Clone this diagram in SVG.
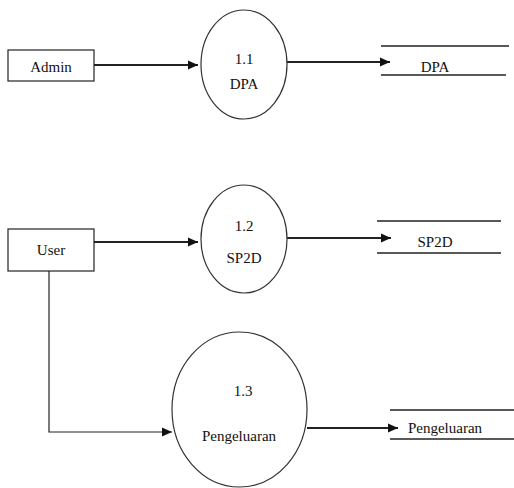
<svg xmlns="http://www.w3.org/2000/svg" width="514" height="488" viewBox="0 0 514 488">
<style>
.box{fill:#fff;stroke:#222;stroke-width:1.2}
.proc{fill:#fff;stroke:#333;stroke-width:1.2}
.store{stroke:#222;stroke-width:1.5}
.flow{fill:none;stroke:#222;stroke-width:1.8}
.flow-thin{fill:none;stroke:#222;stroke-width:1.2}
.lbl{font-family:'Liberation Serif','DejaVu Serif',serif;font-size:15px;fill:#111;text-anchor:middle}
</style>
<defs>
<marker id="arr" markerUnits="userSpaceOnUse" markerWidth="12" markerHeight="12" refX="10" refY="6" orient="auto">
<path d="M0,1.5 L10,6 L0,10.5 Z" fill="#111"/>
</marker>
</defs>
<rect width="514" height="488" fill="#fff"/>
<g id="connectors">
<line class="flow" x1="94" y1="65" x2="198" y2="65" marker-end="url(#arr)"/>
<line class="flow" x1="287" y1="62" x2="390" y2="62" marker-end="url(#arr)"/>
<line class="flow" x1="94" y1="242" x2="198" y2="242" marker-end="url(#arr)"/>
<line class="flow" x1="287" y1="238" x2="391" y2="238" marker-end="url(#arr)"/>
<polyline class="flow-thin" points="49,271 49,432 172,432" marker-end="url(#arr)"/>
<line class="flow" x1="307" y1="428" x2="398" y2="428" marker-end="url(#arr)"/>
</g>
<g id="admin">
<rect class="box" x="8" y="50" width="86" height="31"/>
<text class="lbl" x="51" y="72">Admin</text>
</g>
<g id="user">
<rect class="box" x="8" y="229" width="86" height="42"/>
<text class="lbl" x="51" y="255">User</text>
</g>
<g id="p11">
<ellipse class="proc" cx="244" cy="64.5" rx="43" ry="54.5"/>
<text class="lbl" x="244" y="64">1.1</text>
<text class="lbl" x="244" y="89">DPA</text>
</g>
<g id="p12">
<ellipse class="proc" cx="244" cy="239" rx="43" ry="54"/>
<text class="lbl" x="244" y="231">1.2</text>
<text class="lbl" x="244" y="263">SP2D</text>
</g>
<g id="p13">
<ellipse class="proc" cx="239.5" cy="409.5" rx="67.5" ry="77.5"/>
<text class="lbl" x="243" y="396">1.3</text>
<text class="lbl" x="239" y="441">Pengeluaran</text>
</g>
<g id="ds-dpa">
<line class="store" x1="381" y1="46" x2="509" y2="46"/>
<line class="store" x1="381" y1="75" x2="506" y2="75"/>
<text class="lbl" x="435" y="72">DPA</text>
</g>
<g id="ds-sp2d">
<line class="store" x1="377" y1="221" x2="501" y2="221"/>
<line class="store" x1="377" y1="253" x2="501" y2="253"/>
<text class="lbl" x="435" y="247">SP2D</text>
</g>
<g id="ds-pengeluaran">
<line class="store" x1="390" y1="410" x2="514" y2="410"/>
<line class="store" x1="390" y1="439" x2="514" y2="439"/>
<text class="lbl" x="445" y="433">Pengeluaran</text>
</g>
</svg>
